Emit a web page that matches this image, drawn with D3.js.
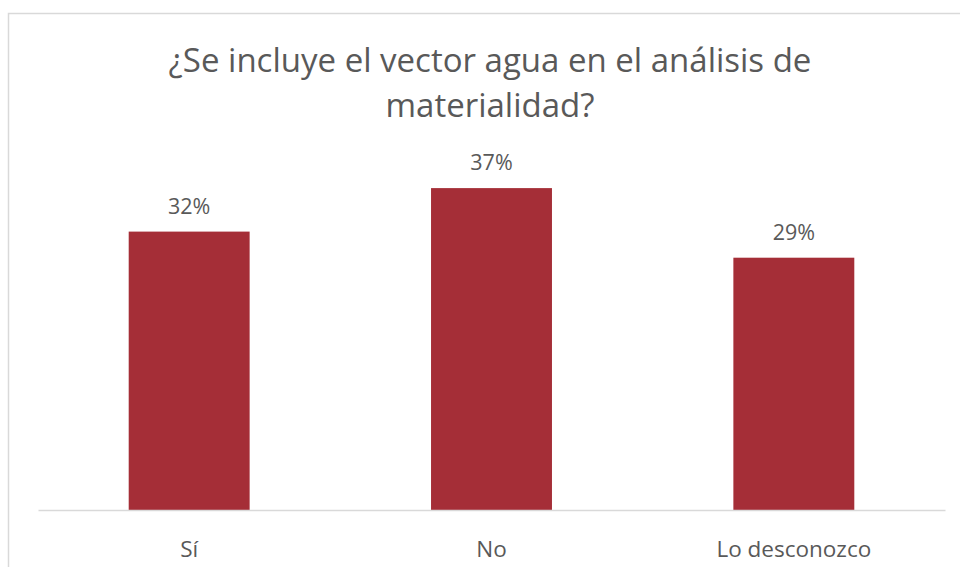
<!DOCTYPE html>
<html>
<head>
<meta charset="utf-8">
<script src="https://cdn.jsdelivr.net/npm/d3@7"></script>
<style>
  html, body { margin: 0; padding: 0; background: #fff; }
  svg { display: block; }
  text { font-family: "Open Sans", Lato, sans-serif; fill: #595959; }
</style>
</head>
<body>
<svg id="chart" width="960" height="567"></svg>
<script>
// Survey answers and their shares
const categories = ["Sí", "No", "Lo desconozco"];
const values = [0.32, 0.37, 0.29];
const titleLines = ["¿Se incluye el vector agua en el análisis de", "materialidad?"];

const svg = d3.select("#chart");
const W = 960, H = 567;

// Chart frame
svg.append("rect")
  .attr("x", 8.5).attr("y", 13.5)
  .attr("width", W + 20).attr("height", H + 20)
  .attr("fill", "#fff")
  .attr("stroke", "#d9d9d9").attr("stroke-width", 1.5);

// Title
const title = svg.append("text")
  .attr("text-anchor", "middle")
  .style("font-size", "33px");
title.selectAll("tspan").data(titleLines).join("tspan")
  .attr("x", 490)
  .attr("y", (d, i) => 72 + i * 45)
  .text(d => d);

const x = d3.scaleBand()
  .domain(categories)
  .range([38, 945])
  .paddingInner(0.6)
  .paddingOuter(0.3);

const y = d3.scaleLinear()
  .domain([0, 0.40])
  .range([510, 162]);

const data = categories.map((c, i) => ({ c, v: values[i] }));

// Bars
svg.append("g").selectAll("rect").data(data).join("rect")
  .attr("x", d => x(d.c))
  .attr("y", d => y(d.v))
  .attr("width", x.bandwidth())
  .attr("height", d => y(0) - y(d.v))
  .attr("fill", "#a52e37");

// Category axis
const axis = svg.append("g")
  .attr("transform", `translate(0,${y(0)})`)
  .call(d3.axisBottom(x).tickSize(0).tickPadding(0));
axis.select(".domain").attr("stroke", "#d9d9d9").attr("stroke-width", 1.5);
axis.selectAll(".tick text")
  .attr("dy", null)
  .attr("y", 47)
  .style("font-size", "22.5px")
  .style("font-family", "'Open Sans', Lato, sans-serif")
  .attr("fill", "#595959");

// Value labels
const fmt = d3.format(".0%");
svg.append("g").selectAll("text").data(data).join("text")
  .attr("x", d => x(d.c) + x.bandwidth() / 2)
  .attr("y", d => y(d.v) - 18)
  .attr("text-anchor", "middle")
  .style("font-size", "21.5px")
  .text(d => fmt(d.v));
</script>
</body>
</html>
